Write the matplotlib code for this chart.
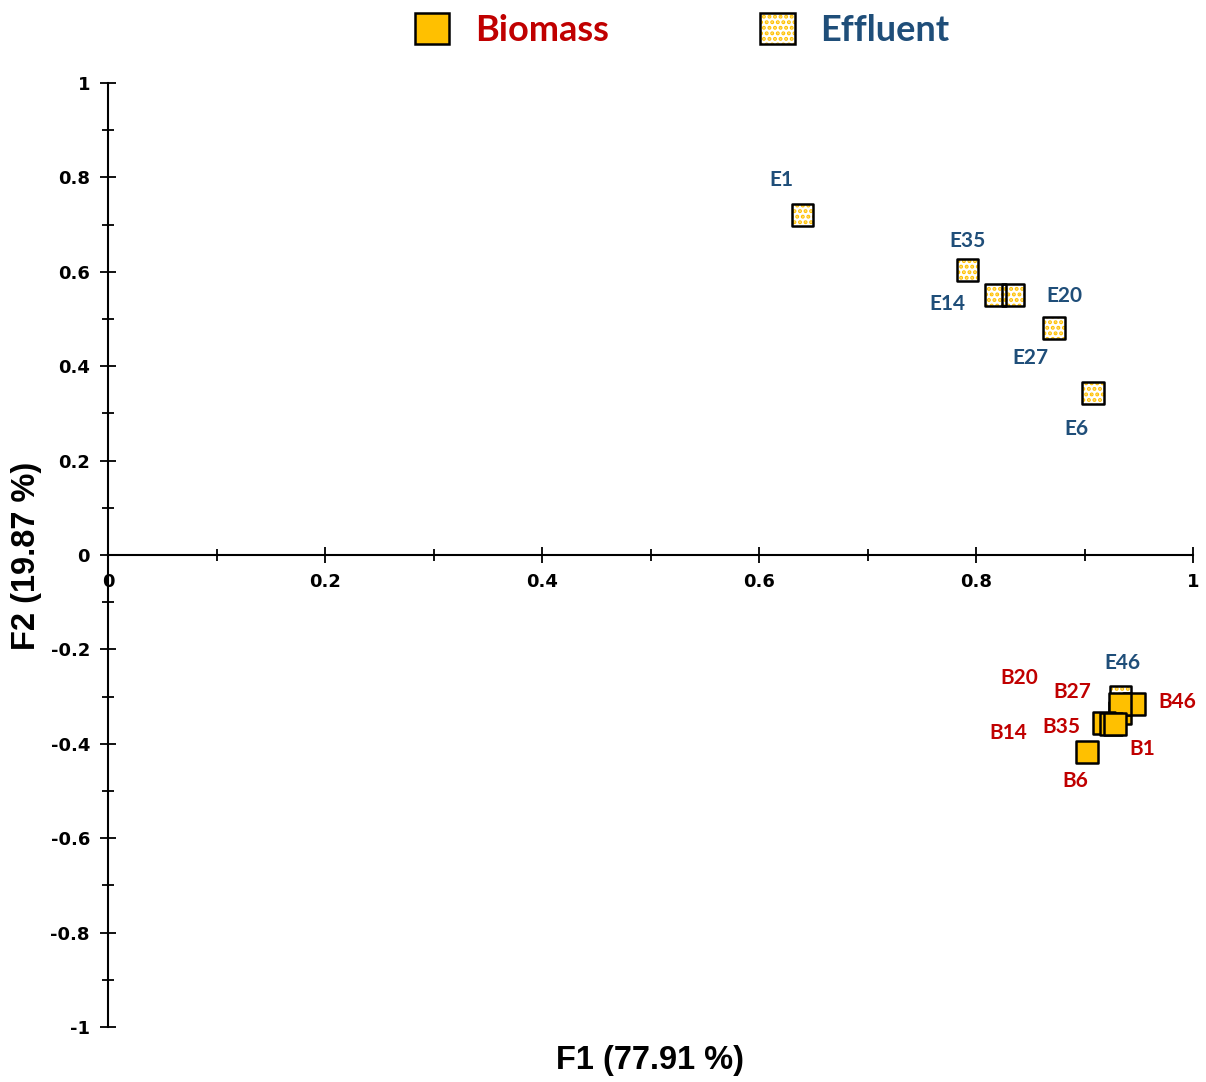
import matplotlib
matplotlib.use("Agg")
import matplotlib.pyplot as plt
from matplotlib.patches import Patch
from matplotlib.legend_handler import HandlerTuple
from matplotlib.ticker import MultipleLocator, FuncFormatter

# ---------------- data ----------------
eff_labels = ["E1", "E35", "E14", "E20", "E27", "E6", "E46"]
eff_f1 = [0.640, 0.792, 0.818, 0.834, 0.872, 0.908, 0.933]
eff_f2 = [0.720, 0.604, 0.551, 0.551, 0.481, 0.343, -0.301]

bio_labels = ["B20", "B46", "B27", "B14", "B35", "B1", "B6"]
bio_f1 = [0.933, 0.946, 0.933, 0.918, 0.924, 0.928, 0.902]
bio_f2 = [-0.335, -0.316, -0.316, -0.355, -0.359, -0.359, -0.417]

# label offsets (pixels) for annotation placement
eff_off = [(-21, 35), (0, 29), (-48, -9), (51, -1), (-24, -30), (-17, -36), (2, 34)]
bio_off = [(-101, 35), (43, 2), (-48, 12), (-96, -10), (-49, -3), (27, -25), (-11, -29)]

x_label = "F1 (77.91 %)"
y_label = "F2 (19.87 %)"

BIO_COLOR = "#FFC000"
BIO_TEXT = "#C00000"
EFF_TEXT = "#1F4E79"

plt.rcParams["hatch.color"] = BIO_COLOR
plt.rcParams["hatch.linewidth"] = 2.0

fig = plt.figure(figsize=(12.06, 10.82), dpi=100)
ax = fig.add_axes([108 / 1206, 1 - 1027 / 1082, (1193 - 108) / 1206, (1027 - 83) / 1082])
ax.set_xlim(0, 1)
ax.set_ylim(-1, 1)

for s in ["top", "right"]:
    ax.spines[s].set_visible(False)
ax.spines["left"].set_position(("data", 0))
ax.spines["bottom"].set_position(("data", 0))
for s in ["left", "bottom"]:
    ax.spines[s].set_linewidth(1.5)

ax.xaxis.set_major_locator(MultipleLocator(0.2))
ax.xaxis.set_minor_locator(MultipleLocator(0.1))
ax.yaxis.set_major_locator(MultipleLocator(0.2))
ax.yaxis.set_minor_locator(MultipleLocator(0.1))

def fmt(v, pos):
    if abs(v) < 1e-9:
        return "0"
    if abs(v - round(v)) < 1e-9:
        return "%d" % round(v)
    return ("%.1f" % v)

ax.xaxis.set_major_formatter(FuncFormatter(fmt))
ax.yaxis.set_major_formatter(FuncFormatter(fmt))
ax.tick_params(which="major", direction="inout", length=12, width=1.3, pad=7,
               labelsize=13)
ax.tick_params(which="minor", direction="inout", length=8, width=1.3)
for lab in ax.get_xticklabels() + ax.get_yticklabels():
    lab.set_fontweight("bold")
    lab.set_family("DejaVu Sans")

msize = 15.5 ** 2
# effluent: white base, orange dotted hatch, black outline
ax.scatter(eff_f1, eff_f2, s=msize, marker="s", facecolor="white", edgecolor="none", zorder=3)
ax.scatter(eff_f1, eff_f2, s=msize, marker="s", facecolor="none", edgecolor=BIO_COLOR,
           linewidths=0, hatch="...", zorder=3)
ax.scatter(eff_f1, eff_f2, s=msize, marker="s", facecolor="none", edgecolor="black",
           linewidths=1.8, zorder=3)
# biomass
for xv, yv in zip(bio_f1, bio_f2):
    ax.scatter([xv], [yv], s=msize, marker="s", facecolor=BIO_COLOR, edgecolor="black",
               linewidths=1.8, zorder=4)

lab_font = dict(family="Lato", fontweight="bold", fontsize=15, ha="center", va="center")
for lbl, xv, yv, off in zip(eff_labels, eff_f1, eff_f2, eff_off):
    ax.annotate(lbl, (xv, yv), xytext=off, textcoords="offset pixels", color=EFF_TEXT,
                zorder=5, **lab_font)
for lbl, xv, yv, off in zip(bio_labels, bio_f1, bio_f2, bio_off):
    ax.annotate(lbl, (xv, yv), xytext=off, textcoords="offset pixels", color=BIO_TEXT,
                zorder=5, **lab_font)

fig.text(650 / 1206, 1 - 1060 / 1082, x_label, ha="center", va="center",
         fontsize=23.5, fontweight="bold", family="Liberation Sans")
fig.text(27 / 1206, 1 - 556 / 1082, y_label, ha="center", va="center", rotation=90,
         fontsize=23.5, fontweight="bold", family="Liberation Sans")

# legend
h_bio = Patch(facecolor=BIO_COLOR, edgecolor="black", linewidth=1.8)
h_eff = (Patch(facecolor="white", edgecolor=BIO_COLOR, linewidth=0, hatch="..."),
         Patch(facecolor="none", edgecolor="black", linewidth=1.8))
leg = fig.legend([h_bio, h_eff], ["Biomass", "Effluent"], loc="center",
                 bbox_to_anchor=(682 / 1206, 1 - 30 / 1082), ncol=2, frameon=False,
                 prop=dict(family="Lato", weight="bold", size=26),
                 handlelength=0.95, handleheight=0.95, handletextpad=0.7,
                 columnspacing=4.2, handler_map={tuple: HandlerTuple(ndivide=1)})
leg.get_texts()[0].set_color(BIO_TEXT)
leg.get_texts()[1].set_color(EFF_TEXT)

fig.savefig("out.png", dpi=100)
